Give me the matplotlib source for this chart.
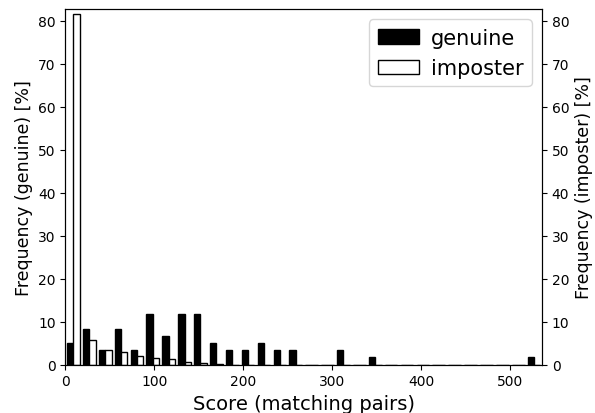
import numpy as np
import matplotlib
matplotlib.use("Agg")
import matplotlib.pyplot as plt

# Histogram bins (score range split into 30 bins)
score_min = 0
score_max = 536
n_bins = 30

# Frequency [%] per bin
genuine = [5.0, 8.33, 3.33, 8.33, 3.33, 11.67, 6.67, 11.67, 11.67, 5.0,
           3.33, 3.33, 5.0, 3.33, 3.33, 0, 0, 3.33, 0, 1.67,
           0, 0, 0, 0, 0, 0, 0, 0, 0, 1.67]
imposter = [81.6, 5.8, 3.3, 2.9, 1.95, 1.5, 1.3, 0.5, 0.25, 0.05,
            0, 0, 0, 0, 0, 0, 0, 0, 0, 0,
            0, 0, 0, 0, 0, 0, 0, 0, 0, 0]

edges = np.linspace(score_min, score_max, n_bins + 1)
centers = (edges[:-1] + edges[1:]) / 2

fig = plt.figure(figsize=(5.95, 4.14), dpi=100)
ax = fig.add_axes([0.110, 0.117, 0.801, 0.859])

ax.hist([centers, centers], bins=edges, weights=[genuine, imposter],
        color=['black', 'white'], edgecolor='black', linewidth=1.0,
        label=['genuine', 'imposter'])

ymax = 82.8
ax.set_xlim(score_min, score_max)
ax.set_ylim(0, ymax)
ax.set_xlabel('Score (matching pairs)', fontsize=14)
ax.set_ylabel('Frequency (genuine) [%]', fontsize=12.5)
ax.tick_params(labelsize=10)

ax2 = ax.twinx()
ax2.set_ylim(0, ymax)
ax2.set_ylabel('Frequency (imposter) [%]', fontsize=12.5)
ax2.tick_params(labelsize=10)

ax.legend(loc='upper right', fontsize=15, handletextpad=0.55)

fig.savefig('out.png', dpi=100)
